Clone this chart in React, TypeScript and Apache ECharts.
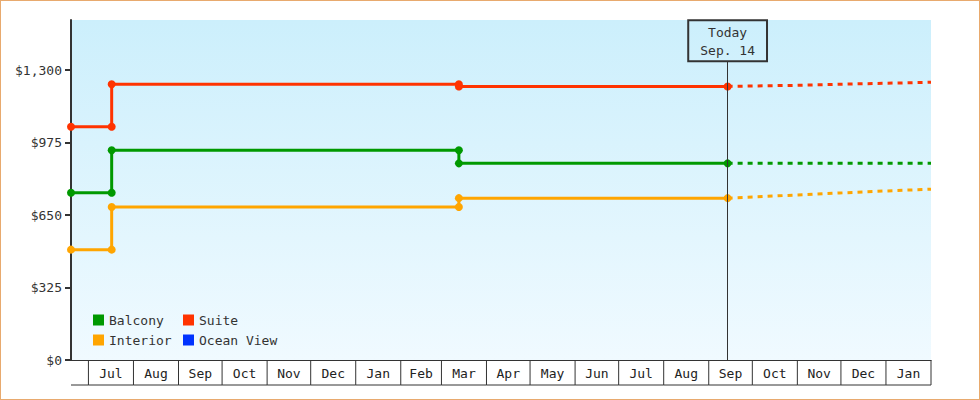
import { useRef, useEffect } from 'react'
import * as echarts from 'echarts'

// ── 数据 ─────────────────────────────────────────
const AXIS_MIN = '2022-06-19'
const AXIS_MAX = '2024-02-01'
const TODAY = '2023-09-14'

// 实线：历史价格（阶梯）
const histDates = ['2022-06-19', '2022-07-17', '2022-07-17', '2023-03-13', '2023-03-13', '2023-09-14']
const balconyHist = [750, 750, 941, 941, 882, 882]
const suiteHist = [1046, 1046, 1237, 1237, 1227, 1227]
const interiorHist = [495, 495, 686, 686, 726, 726]

// 虚线：预测
const forecastDates = ['2023-09-14', '2023-10-31', '2023-11-30', '2023-12-31', '2024-02-01']
const balconyForecast = [882, 882, 882, 882, 882]
const suiteForecast = [1227, 1232, 1237, 1241, 1246]
const interiorForecast = [726, 740, 749, 758, 766]

const yTicks = [0, 325, 650, 975, 1300]

// 月份格子（起点、终点、标签）
const cellStarts = ['2022-06-19', '2022-07-01', '2022-08-01', '2022-09-01', '2022-10-01', '2022-11-01', '2022-12-01',
  '2023-01-01', '2023-02-01', '2023-03-01', '2023-04-01', '2023-05-01', '2023-06-01', '2023-07-01', '2023-08-01',
  '2023-09-01', '2023-10-01', '2023-11-01', '2023-12-01', '2024-01-01']
const cellEnds = [...cellStarts.slice(1), '2024-02-01']
const cellLabels = ['', 'Jul', 'Aug', 'Sep', 'Oct', 'Nov', 'Dec', 'Jan', 'Feb', 'Mar', 'Apr', 'May', 'Jun', 'Jul', 'Aug',
  'Sep', 'Oct', 'Nov', 'Dec', 'Jan']

const COLORS = {
  Balcony: '#009900',
  Suite: '#FF3300',
  Interior: '#FFA500',
  'Ocean View': '#0033FF',
}

const FONT = '"DejaVu Sans Mono", monospace'
const INK = '#333333'

function pairs(dates: string[], values: number[]) {
  return dates.map((d, i) => [d, values[i]])
}

function solidSeries(name: keyof typeof COLORS, values: number[]) {
  return {
    name,
    type: 'line',
    data: pairs(histDates, values),
    symbol: 'circle',
    symbolSize: 8,
    showAllSymbol: true,
    itemStyle: { color: COLORS[name] },
    lineStyle: { color: COLORS[name], width: 3 },
    z: 3,
  }
}

function dashedSeries(name: keyof typeof COLORS, values: number[]) {
  return {
    name: name + ' forecast',
    type: 'line',
    data: pairs(forecastDates, values),
    symbol: 'none',
    itemStyle: { color: COLORS[name] },
    lineStyle: { color: COLORS[name], width: 3, type: [5, 5] },
    z: 2,
  }
}

function buildOption() {
  const legendText = { fontFamily: FONT, fontSize: 13, color: INK, lineHeight: 14 }
  const legendBase = {
    orient: 'vertical', top: 313, padding: 0,
    itemWidth: 11, itemHeight: 11, itemGap: 6, icon: 'rect',
    selectedMode: false, textStyle: legendText,
  }
  return {
    animation: false,
    grid: {
      left: 71, top: 20, right: 49, bottom: 40,
      show: true,
      borderWidth: 0,
      backgroundColor: new echarts.graphic.LinearGradient(0, 0, 0, 1, [
        { offset: 0, color: '#CCEFFC' },
        { offset: 1, color: '#F0FAFF' },
      ]),
    },
    legend: [
      { ...legendBase, data: ['Balcony', 'Interior'], left: 93 },
      { ...legendBase, data: ['Suite', 'Ocean View'], left: 183 },
    ],
    xAxis: {
      type: 'time',
      min: AXIS_MIN,
      max: AXIS_MAX,
      axisLine: { show: true, lineStyle: { color: INK, width: 1 } },
      axisTick: { show: false },
      axisLabel: { show: false },
      splitLine: { show: false },
    },
    yAxis: {
      type: 'value',
      min: 0,
      max: 1525,
      interval: 325,
      axisLine: { show: true, lineStyle: { color: INK, width: 2 } },
      axisTick: { show: true, length: 6, lineStyle: { color: INK, width: 2 }, customValues: yTicks },
      axisLabel: {
        margin: 9,
        fontFamily: FONT,
        fontSize: 13,
        color: INK,
        customValues: yTicks,
        formatter: (v: number) => '$' + v.toLocaleString('en-US'),
      },
      splitLine: { show: false },
    },
    series: [
      {
        ...solidSeries('Suite', suiteHist),
        markLine: {
          silent: true,
          symbol: 'none',
          lineStyle: { color: INK, width: 1, type: 'solid' },
          label: {
            show: true,
            position: 'end',
            distance: 0,
            formatter: 'Today\nSep. 14',
            fontFamily: FONT,
            fontSize: 13,
            lineHeight: 18,
            color: INK,
            padding: [3, 12, 2, 12],
            borderColor: INK,
            borderWidth: 1,
            backgroundColor: 'transparent',
          },
          data: [[{ coord: [TODAY, 0] }, { coord: [TODAY, 1340] }]],
        },
      },
      solidSeries('Balcony', balconyHist),
      solidSeries('Interior', interiorHist),
      {
        name: 'Ocean View',
        type: 'line',
        data: [],
        itemStyle: { color: COLORS['Ocean View'] },
        lineStyle: { color: COLORS['Ocean View'], width: 3 },
      },
      dashedSeries('Suite', suiteForecast),
      dashedSeries('Balcony', balconyForecast),
      dashedSeries('Interior', interiorForecast),
      {
        name: 'months',
        type: 'custom',
        silent: true,
        clip: false,
        data: cellStarts.map((s, i) => [s, cellEnds[i], 0]),
        encode: { x: [0, 1], y: 2 },
        renderItem: (params: any, api: any) => {
          const s = api.coord([api.value(0), 0])
          const e = api.coord([api.value(1), 0])
          const y0 = s[1]
          const lineStyle = { stroke: INK, lineWidth: 1 }
          return {
            type: 'group',
            children: [
              { type: 'line', shape: { x1: s[0], y1: y0 + 25, x2: e[0], y2: y0 + 25 }, style: lineStyle },
              { type: 'line', shape: { x1: e[0], y1: y0, x2: e[0], y2: y0 + 25 }, style: lineStyle },
              {
                type: 'text',
                x: (s[0] + e[0]) / 2,
                y: y0 + 13,
                style: {
                  text: cellLabels[params.dataIndex],
                  textAlign: 'center',
                  textVerticalAlign: 'middle',
                  font: '13px ' + FONT,
                  fill: '#222',
                },
              },
            ],
          }
        },
      },
    ],
  }
}

export default function App() {
  const chartDom = useRef<HTMLDivElement>(null)

  useEffect(() => {
    document.body.style.margin = '0'
    if (!chartDom.current) return
    const chart = echarts.init(chartDom.current, null, { renderer: 'svg' })
    chart.setOption(buildOption() as any)
    return () => chart.dispose()
  }, [])

  return (
    <div style={{ position: 'relative', width: 980, height: 400, background: '#fff' }}>
      <div ref={chartDom} style={{ position: 'absolute', left: 0, top: 0, width: 980, height: 400 }} />
      <div style={{
        position: 'absolute', inset: 0, border: '1px solid #E8AA6E',
        boxSizing: 'border-box', pointerEvents: 'none',
      }} />
    </div>
  )
}
